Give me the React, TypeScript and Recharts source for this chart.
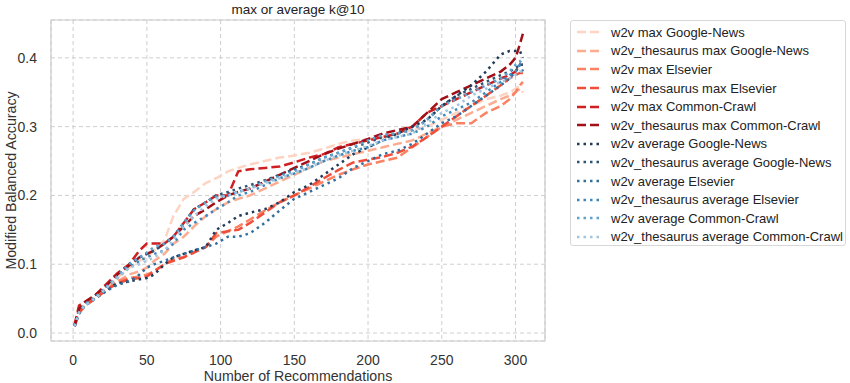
import {
  LineChart,
  Line,
  XAxis,
  YAxis,
  CartesianGrid,
  ReferenceArea,
} from "recharts";

const recs = [1, 4, 8, 15, 22, 30, 38, 45, 50, 55, 62, 68, 75, 82, 90, 97, 105, 112, 120, 130, 140, 150, 160, 170, 180, 190, 200, 210, 220, 230, 240, 250, 260, 270, 280, 290, 296, 300, 303, 305];

const maxGoogle = [0.012, 0.03, 0.042, 0.052, 0.065, 0.08, 0.095, 0.105, 0.11, 0.12, 0.135, 0.17, 0.195, 0.205, 0.218, 0.225, 0.235, 0.24, 0.245, 0.25, 0.255, 0.258, 0.262, 0.268, 0.275, 0.28, 0.282, 0.285, 0.29, 0.295, 0.3, 0.31, 0.32, 0.33, 0.34, 0.345, 0.35, 0.355, 0.36, 0.36];
const thesMaxGoogle = [0.01, 0.03, 0.04, 0.05, 0.062, 0.075, 0.085, 0.09, 0.095, 0.105, 0.115, 0.13, 0.14, 0.155, 0.17, 0.18, 0.19, 0.195, 0.2, 0.21, 0.22, 0.23, 0.24, 0.25, 0.255, 0.26, 0.265, 0.27, 0.275, 0.28, 0.29, 0.3, 0.31, 0.32, 0.33, 0.34, 0.345, 0.35, 0.355, 0.35];
const maxElsevier = [0.01, 0.028, 0.04, 0.05, 0.062, 0.075, 0.08, 0.082, 0.085, 0.09, 0.1, 0.108, 0.11, 0.118, 0.125, 0.14, 0.148, 0.155, 0.165, 0.178, 0.19, 0.2, 0.21, 0.22, 0.23, 0.238, 0.245, 0.25, 0.255, 0.27, 0.285, 0.3, 0.305, 0.305, 0.32, 0.33, 0.34, 0.35, 0.36, 0.365];
const thesMaxElsevier = [0.01, 0.03, 0.04, 0.05, 0.062, 0.072, 0.078, 0.08, 0.082, 0.09, 0.1, 0.105, 0.11, 0.117, 0.125, 0.145, 0.148, 0.15, 0.16, 0.175, 0.19, 0.2, 0.212, 0.225, 0.237, 0.248, 0.252, 0.256, 0.262, 0.271, 0.285, 0.3, 0.315, 0.33, 0.345, 0.36, 0.37, 0.375, 0.378, 0.378];
const maxCrawl = [0.012, 0.04, 0.045, 0.055, 0.07, 0.087, 0.1, 0.12, 0.13, 0.13, 0.13, 0.14, 0.16, 0.18, 0.19, 0.2, 0.2, 0.235, 0.238, 0.24, 0.242, 0.248, 0.255, 0.26, 0.27, 0.275, 0.28, 0.285, 0.29, 0.3, 0.32, 0.33, 0.34, 0.35, 0.36, 0.37, 0.375, 0.38, 0.39, 0.39];
const thesMaxCrawl = [0.01, 0.035, 0.045, 0.055, 0.068, 0.085, 0.098, 0.11, 0.115, 0.12, 0.13, 0.14, 0.155, 0.17, 0.18, 0.19, 0.2, 0.205, 0.21, 0.22, 0.23, 0.24, 0.25, 0.26, 0.268, 0.275, 0.282, 0.29, 0.295, 0.3, 0.32, 0.34, 0.35, 0.36, 0.37, 0.38, 0.39, 0.4, 0.42, 0.435];
const avgGoogle = [0.01, 0.03, 0.04, 0.05, 0.062, 0.072, 0.075, 0.078, 0.08, 0.085, 0.1, 0.11, 0.115, 0.12, 0.125, 0.15, 0.16, 0.17, 0.175, 0.18, 0.19, 0.205, 0.215, 0.23, 0.245, 0.26, 0.27, 0.28, 0.29, 0.3, 0.31, 0.33, 0.345, 0.36, 0.38, 0.405, 0.41, 0.41, 0.41, 0.4];
const thesAvgGoogle = [0.01, 0.032, 0.042, 0.052, 0.066, 0.082, 0.1, 0.11, 0.115, 0.12, 0.13, 0.14, 0.16, 0.18, 0.19, 0.2, 0.205, 0.21, 0.215, 0.222, 0.23, 0.238, 0.245, 0.255, 0.262, 0.27, 0.277, 0.285, 0.29, 0.295, 0.31, 0.33, 0.345, 0.355, 0.365, 0.375, 0.38, 0.385, 0.39, 0.39];
const avgElsevier = [0.01, 0.028, 0.04, 0.05, 0.06, 0.07, 0.075, 0.085, 0.095, 0.1, 0.105, 0.11, 0.115, 0.12, 0.125, 0.13, 0.14, 0.14, 0.145, 0.16, 0.178, 0.195, 0.205, 0.215, 0.225, 0.24, 0.25, 0.26, 0.265, 0.275, 0.29, 0.305, 0.315, 0.33, 0.345, 0.36, 0.37, 0.38, 0.39, 0.38];
const thesAvgElsevier = [0.01, 0.03, 0.04, 0.05, 0.063, 0.08, 0.095, 0.105, 0.11, 0.115, 0.12, 0.13, 0.15, 0.16, 0.17, 0.18, 0.19, 0.2, 0.205, 0.215, 0.225, 0.232, 0.24, 0.25, 0.258, 0.265, 0.27, 0.28, 0.285, 0.29, 0.3, 0.315, 0.325, 0.335, 0.35, 0.365, 0.375, 0.38, 0.39, 0.39];
const avgCrawl = [0.01, 0.03, 0.042, 0.052, 0.066, 0.083, 0.1, 0.11, 0.117, 0.125, 0.13, 0.14, 0.16, 0.178, 0.19, 0.198, 0.2, 0.205, 0.21, 0.22, 0.228, 0.235, 0.245, 0.255, 0.262, 0.27, 0.28, 0.288, 0.29, 0.295, 0.31, 0.33, 0.34, 0.35, 0.36, 0.37, 0.38, 0.39, 0.395, 0.39];
const thesAvgCrawl = [0.01, 0.03, 0.04, 0.05, 0.064, 0.08, 0.095, 0.1, 0.105, 0.11, 0.12, 0.135, 0.155, 0.17, 0.185, 0.195, 0.2, 0.205, 0.21, 0.218, 0.225, 0.232, 0.24, 0.25, 0.258, 0.265, 0.272, 0.28, 0.285, 0.29, 0.305, 0.32, 0.33, 0.345, 0.355, 0.365, 0.37, 0.375, 0.38, 0.38];

const xTicks = [0, 50, 100, 150, 200, 250, 300];
const yTicks = [0, 0.1, 0.2, 0.3, 0.4];

// name, values, colour, dashed (max) or dotted (average)
const series: [string, number[], string, boolean][] = [
  ["w2v max Google-News", maxGoogle, "#fdd3c1", true],
  ["w2v_thesaurus max Google-News", thesMaxGoogle, "#fcac90", true],
  ["w2v max Elsevier", maxElsevier, "#fb8263", true],
  ["w2v_thesaurus max Elsevier", thesMaxElsevier, "#f04d3a", true],
  ["w2v max Common-Crawl", maxCrawl, "#d01f22", true],
  ["w2v_thesaurus max Common-Crawl", thesMaxCrawl, "#a30f17", true],
  ["w2v average Google-News", avgGoogle, "#1f3b58", false],
  ["w2v_thesaurus average Google-News", thesAvgGoogle, "#2c5473", false],
  ["w2v average Elsevier", avgElsevier, "#316f9e", false],
  ["w2v_thesaurus average Elsevier", thesAvgElsevier, "#3e88ba", false],
  ["w2v average Common-Crawl", avgCrawl, "#5fa2cf", false],
  ["w2v_thesaurus average Common-Crawl", thesAvgCrawl, "#a2c5de", false],
];

const data = recs.map((r, i) => {
  const row: any = { r };
  series.forEach(([name, vals]) => {
    row[name] = vals[i];
  });
  return row;
});

const font = "Arial, 'Liberation Sans', sans-serif";

function LegendBox() {
  return (
    <div
      style={{
        position: "absolute",
        left: 570,
        top: 20,
        width: 276,
        height: 226,
        border: "1px solid #d8d8d8",
        borderRadius: 3,
        background: "#fff",
        fontFamily: font,
        fontSize: 13,
        color: "#222",
        boxSizing: "border-box",
        paddingTop: 2,
      }}
    >
      {series.map(([name, , color, dashed]) => (
        <div key={name} style={{ height: 18.6, display: "flex", alignItems: "center" }}>
          <svg width={40} height={10} style={{ flex: "none" }}>
            <line
              x1={6}
              x2={31}
              y1={5}
              y2={5}
              stroke={color}
              strokeWidth={2.5}
              strokeDasharray={dashed ? "9 4" : "2.5 4"}
            />
          </svg>
          <span style={{ whiteSpace: "nowrap" }}>{name}</span>
        </div>
      ))}
    </div>
  );
}

export default function App() {
  return (
    <div
      style={{
        position: "absolute",
        left: 0,
        top: 0,
        width: 850,
        height: 383,
        background: "#fff",
        fontFamily: font,
      }}
    >
      <div
        style={{
          position: "absolute",
          left: 51,
          width: 494,
          top: 2,
          textAlign: "center",
          fontSize: 13.5,
          color: "#222",
        }}
      >
        max or average k@10
      </div>
      <LineChart
        width={850}
        height={383}
        data={data}
        margin={{ top: 20, right: 305, bottom: 0, left: 11 }}
      >
        <CartesianGrid stroke="#cfcfcf" strokeDasharray="4 3" />
        <XAxis
          dataKey="r"
          type="number"
          domain={[-15, 320]}
          ticks={xTicks}
          allowDataOverflow
          height={42}
          axisLine={false}
          tickLine={false}
          tickMargin={8}
          tick={{ fill: "#333", fontSize: 14 }}
          label={{ value: "Number of Recommendations", position: "insideBottom", offset: 2, fill: "#333", fontSize: 14.2 }}
        />
        <YAxis
          type="number"
          domain={[-0.0116, 0.455]}
          ticks={yTicks}
          allowDataOverflow
          width={40}
          axisLine={false}
          tickLine={false}
          tickMargin={8}
          tickFormatter={(v) => v.toFixed(1)}
          tick={{ fill: "#333", fontSize: 14 }}
          label={{
            value: "Modified Balanced Accuracy",
            angle: -90,
            position: "insideLeft",
            offset: 0,
            fill: "#333",
            fontSize: 14.2,
            style: { textAnchor: "middle" },
          }}
        />
        <ReferenceArea x1={-15} x2={320} y1={-0.0116} y2={0.455} fill="none" stroke="#cccccc" strokeWidth={1.2} />
        {series.map(([name, , color, dashed]) => (
          <Line
            key={name}
            dataKey={name}
            stroke={color}
            strokeWidth={2.5}
            strokeDasharray={dashed ? "9 4" : "2.5 4"}
            dot={false}
            type="linear"
            isAnimationActive={false}
          />
        ))}
      </LineChart>
      <LegendBox />
    </div>
  );
}
